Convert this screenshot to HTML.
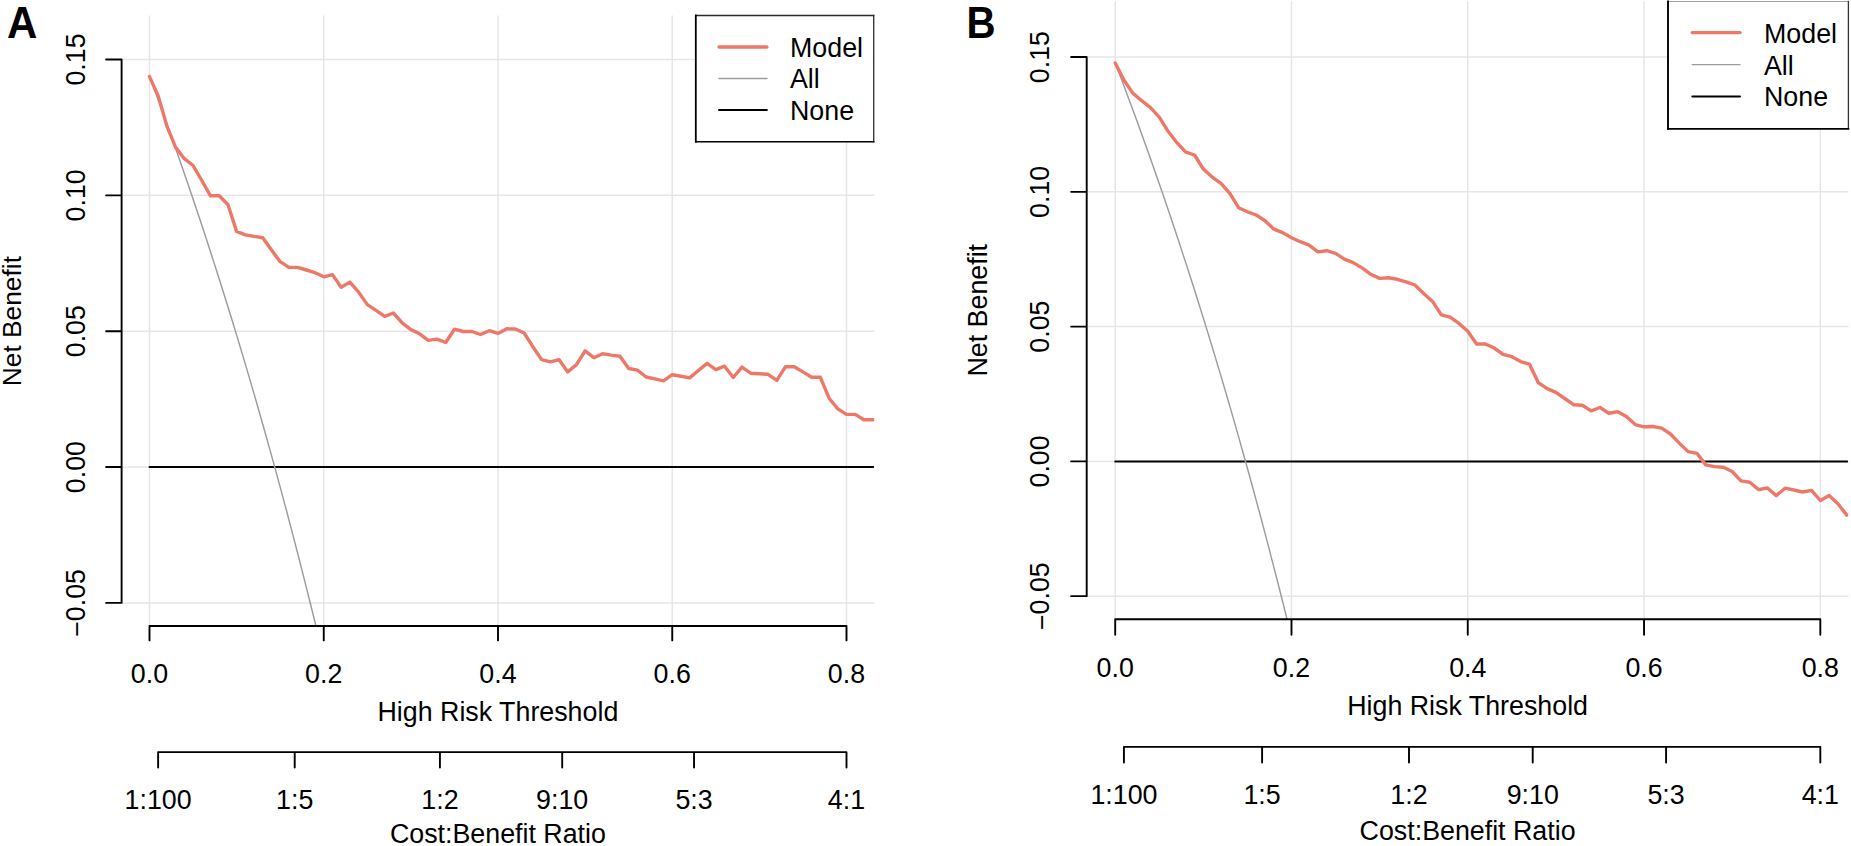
<!DOCTYPE html>
<html><head><meta charset="utf-8"><title>Decision curves</title>
<style>
html,body{margin:0;padding:0;background:#fff;}
body{width:1851px;height:846px;overflow:hidden;position:relative;}
svg{position:absolute;left:0;top:0;display:block;}
</style></head><body>
<svg width="1851" height="846" viewBox="0 0 1851 846">
<rect width="1851" height="846" fill="#fff"/>
<clipPath id="clipA"><rect x="121.6" y="15.4" width="752.60" height="610.60"/></clipPath>
<path d="M149.50 15.40V626.00M323.75 15.40V626.00M498.00 15.40V626.00M672.25 15.40V626.00M846.50 15.40V626.00M121.60 602.90H874.20M121.60 467.05H874.20M121.60 331.20H874.20M121.60 195.35H874.20M121.60 59.50H874.20" stroke="#e6e6e6" stroke-width="1.5" fill="none"/>
<g clip-path="url(#clipA)">
<path d="M149.50 467.05H873.20" stroke="#000" stroke-width="2.0" fill="none" stroke-linecap="round"/>
<path d="M149.50 76.60 L153.86 88.29 L158.21 100.10 L162.57 112.03 L166.93 124.08 L171.28 136.26 L175.64 148.56 L179.99 160.98 L184.35 173.54 L188.71 186.23 L193.06 199.05 L197.42 212.01 L201.78 225.10 L206.13 238.34 L210.49 251.72 L214.84 265.24 L219.20 278.91 L223.56 292.73 L227.91 306.70 L232.27 320.82 L236.62 335.11 L240.98 349.55 L245.34 364.15 L249.69 378.92 L254.05 393.86 L258.41 408.96 L262.76 424.25 L267.12 439.70 L271.48 455.34 L275.83 471.16 L280.19 487.17 L284.54 503.36 L288.90 519.75 L293.26 536.34 L297.61 553.12 L301.97 570.11 L306.32 587.31 L310.68 604.71 L315.04 622.33 L319.39 640.17" stroke="#9c9c9c" stroke-width="1.45" fill="none"/>
<path d="M149.50 76.60 L158.21 95.90 L166.93 126.20 L175.64 147.40 L184.35 158.70 L193.06 165.50 L201.78 180.50 L210.49 195.80 L219.20 195.80 L227.91 204.50 L236.62 231.40 L245.34 234.80 L254.05 236.40 L262.76 237.70 L271.48 250.00 L280.19 261.70 L288.90 267.40 L297.61 267.40 L306.33 270.00 L315.04 272.70 L323.75 276.80 L332.46 274.60 L341.18 287.20 L349.89 282.10 L358.60 292.10 L367.31 304.60 L376.02 310.30 L384.74 316.40 L393.45 313.00 L402.16 322.80 L410.88 329.60 L419.59 333.80 L428.30 340.40 L437.01 339.10 L445.73 342.50 L454.44 329.20 L463.15 331.50 L471.86 331.50 L480.57 334.50 L489.29 330.70 L498.00 333.40 L506.71 328.80 L515.42 329.00 L524.14 333.00 L532.85 346.70 L541.56 359.60 L550.28 361.90 L558.99 359.60 L567.70 371.90 L576.41 364.70 L585.12 350.90 L593.84 357.70 L602.55 353.70 L611.26 355.10 L619.98 356.20 L628.69 368.50 L637.40 370.20 L646.11 377.00 L654.83 378.90 L663.54 380.80 L672.25 374.70 L680.96 376.20 L689.68 377.90 L698.39 370.50 L707.10 363.40 L715.81 369.60 L724.52 366.20 L733.24 377.50 L741.95 367.10 L750.66 373.20 L759.38 373.80 L768.09 374.30 L776.80 380.40 L785.51 366.60 L794.23 366.70 L802.94 371.90 L811.65 377.30 L820.36 377.30 L829.08 398.20 L837.79 408.90 L846.50 414.40 L855.21 414.40 L863.93 419.70 L872.64 419.70 L881.35 419.70" stroke="#ed7868" stroke-width="3.4" fill="none" stroke-linejoin="round" stroke-linecap="round"/>
</g>
<path d="M121.60 59.50V602.90M106.10 602.90H121.60M106.10 467.05H121.60M106.10 331.20H121.60M106.10 195.35H121.60M106.10 59.50H121.60M149.50 626.00H846.50M149.50 626.00V640.40M323.75 626.00V640.40M498.00 626.00V640.40M672.25 626.00V640.40M846.50 626.00V640.40M158.13 752.10H846.50M158.13 752.10V767.60M294.71 752.10V767.60M439.92 752.10V767.60M562.20 752.10V767.60M694.03 752.10V767.60M846.50 752.10V767.60" stroke="#000" stroke-width="1.9" fill="none" stroke-linecap="round" stroke-linejoin="round"/>
<g font-family="'Liberation Sans', Arial, Helvetica, sans-serif" font-size="26.8" fill="#000"><text x="149.50" y="682.60" text-anchor="middle">0.0</text><text x="323.75" y="682.60" text-anchor="middle">0.2</text><text x="498.00" y="682.60" text-anchor="middle">0.4</text><text x="672.25" y="682.60" text-anchor="middle">0.6</text><text x="846.50" y="682.60" text-anchor="middle">0.8</text><text transform="translate(84.90 602.90) rotate(-90)" text-anchor="middle"><tspan dy="1.5">−</tspan><tspan dy="-1.5">0.05</tspan></text><text transform="translate(84.90 467.05) rotate(-90)" text-anchor="middle">0.00</text><text transform="translate(84.90 331.20) rotate(-90)" text-anchor="middle">0.05</text><text transform="translate(84.90 195.35) rotate(-90)" text-anchor="middle">0.10</text><text transform="translate(84.90 59.50) rotate(-90)" text-anchor="middle">0.15</text><text x="158.13" y="808.80" text-anchor="middle">1:100</text><text x="294.71" y="808.80" text-anchor="middle">1:5</text><text x="439.92" y="808.80" text-anchor="middle">1:2</text><text x="562.20" y="808.80" text-anchor="middle">9:10</text><text x="694.03" y="808.80" text-anchor="middle">5:3</text><text x="846.50" y="808.80" text-anchor="middle">4:1</text><text x="497.90" y="720.90" text-anchor="middle">High Risk Threshold</text><text x="497.90" y="842.50" text-anchor="middle">Cost:Benefit Ratio</text><text transform="translate(21.10 321.10) rotate(-90)" text-anchor="middle" font-size="26.3">Net Benefit</text></g>
<rect x="695.60" y="15.60" width="178.10" height="126.30" fill="#fff"/>
<path d="M695.8 15.5H873.7" stroke="#2a2a2a" stroke-width="1.3" fill="none" stroke-linecap="square"/>
<path d="M873.7 15.5V141.7" stroke="#333" stroke-width="1.35" fill="none" stroke-linecap="square"/>
<path d="M695.8 141.7H873.7" stroke="#000" stroke-width="1.6" fill="none" stroke-linecap="square"/>
<path d="M695.8 15.5V141.7" stroke="#000" stroke-width="1.8" fill="none" stroke-linecap="square"/>
<path d="M719.00 47.00H766.90" stroke="#ed7868" stroke-width="3.4" stroke-linecap="round"/>
<path d="M719.00 78.40H766.90" stroke="#9c9c9c" stroke-width="1.45" stroke-linecap="round"/>
<path d="M719.00 110.10H766.90" stroke="#000" stroke-width="2.0" stroke-linecap="round"/>
<g font-family="'Liberation Sans', Arial, Helvetica, sans-serif" font-size="26.8" fill="#000"><text x="790.00" y="56.70">Model</text><text x="790.00" y="88.40">All</text><text x="790.00" y="120.10">None</text></g>
<text transform="translate(6.90 37.60) scale(0.955 1)" font-family="'Liberation Sans', Arial, Helvetica, sans-serif" font-weight="bold" font-size="44" fill="#000">A</text>
<clipPath id="clipB"><rect x="1086.7" y="1.3" width="761.80" height="617.90"/></clipPath>
<path d="M1115.20 1.30V619.20M1291.48 1.30V619.20M1467.76 1.30V619.20M1644.04 1.30V619.20M1820.32 1.30V619.20M1086.70 596.17H1848.50M1086.70 461.40H1848.50M1086.70 326.62H1848.50M1086.70 191.85H1848.50M1086.70 57.07H1848.50" stroke="#e6e6e6" stroke-width="1.5" fill="none"/>
<g clip-path="url(#clipB)">
<path d="M1115.20 461.40H1847.20" stroke="#000" stroke-width="2.0" fill="none" stroke-linecap="round"/>
<path d="M1115.20 62.90 L1119.61 74.44 L1124.01 86.10 L1128.42 97.88 L1132.83 109.78 L1137.24 121.80 L1141.64 133.94 L1146.05 146.21 L1150.46 158.61 L1154.86 171.14 L1159.27 183.79 L1163.68 196.59 L1168.08 209.52 L1172.49 222.58 L1176.90 235.79 L1181.31 249.14 L1185.71 262.64 L1190.12 276.28 L1194.53 290.08 L1198.93 304.02 L1203.34 318.12 L1207.75 332.38 L1212.15 346.80 L1216.56 361.38 L1220.97 376.13 L1225.38 391.04 L1229.78 406.13 L1234.19 421.39 L1238.60 436.83 L1243.00 452.45 L1247.41 468.25 L1251.82 484.24 L1256.22 500.42 L1260.63 516.80 L1265.04 533.37 L1269.45 550.14 L1273.85 567.12 L1278.26 584.30 L1282.67 601.70 L1287.07 619.32 L1291.48 637.15" stroke="#9c9c9c" stroke-width="1.45" fill="none"/>
<path d="M1115.20 62.90 L1124.01 80.30 L1132.83 93.10 L1141.64 100.70 L1150.46 107.70 L1159.27 117.10 L1168.08 131.30 L1176.90 142.70 L1185.71 152.10 L1194.53 155.00 L1203.34 169.10 L1212.15 177.10 L1220.97 183.30 L1229.78 193.40 L1238.60 207.70 L1247.41 211.80 L1256.22 215.00 L1265.04 220.70 L1273.85 229.20 L1282.67 232.60 L1291.48 237.70 L1300.29 241.70 L1309.11 245.20 L1317.92 251.90 L1326.74 250.70 L1335.55 253.40 L1344.36 259.10 L1353.18 262.60 L1361.99 267.90 L1370.81 274.30 L1379.62 278.40 L1388.43 277.80 L1397.25 279.30 L1406.06 281.80 L1414.88 285.00 L1423.69 293.50 L1432.50 301.40 L1441.32 314.90 L1450.13 317.10 L1458.95 323.40 L1467.76 331.30 L1476.57 344.00 L1485.39 344.00 L1494.20 348.00 L1503.02 354.40 L1511.83 356.70 L1520.64 361.60 L1529.46 364.20 L1538.27 382.60 L1547.09 388.60 L1555.90 392.40 L1564.71 398.50 L1573.53 404.70 L1582.34 405.30 L1591.16 410.90 L1599.97 407.50 L1608.78 413.20 L1617.60 411.70 L1626.41 416.60 L1635.23 424.60 L1644.04 426.80 L1652.85 426.50 L1661.67 428.20 L1670.48 434.00 L1679.30 443.10 L1688.11 451.60 L1696.92 453.30 L1705.74 464.90 L1714.55 466.60 L1723.37 467.30 L1732.18 471.50 L1740.99 480.90 L1749.81 482.30 L1758.62 489.60 L1767.44 488.00 L1776.25 495.60 L1785.06 488.20 L1793.88 490.00 L1802.69 492.00 L1811.51 490.40 L1820.32 500.50 L1829.13 495.60 L1837.95 503.80 L1846.76 515.10" stroke="#ed7868" stroke-width="3.4" fill="none" stroke-linejoin="round" stroke-linecap="round"/>
</g>
<path d="M1086.70 57.07V596.17M1071.10 596.17H1086.70M1071.10 461.40H1086.70M1071.10 326.62H1086.70M1071.10 191.85H1086.70M1071.10 57.07H1086.70M1115.20 619.20H1820.32M1115.20 619.20V634.80M1291.48 619.20V634.80M1467.76 619.20V634.80M1644.04 619.20V634.80M1820.32 619.20V634.80M1123.93 746.90H1820.32M1123.93 746.90V762.60M1262.10 746.90V762.60M1409.00 746.90V762.60M1532.71 746.90V762.60M1666.08 746.90V762.60M1820.32 746.90V762.60" stroke="#000" stroke-width="1.9" fill="none" stroke-linecap="round" stroke-linejoin="round"/>
<g font-family="'Liberation Sans', Arial, Helvetica, sans-serif" font-size="26.8" fill="#000"><text x="1115.20" y="676.70" text-anchor="middle">0.0</text><text x="1291.48" y="676.70" text-anchor="middle">0.2</text><text x="1467.76" y="676.70" text-anchor="middle">0.4</text><text x="1644.04" y="676.70" text-anchor="middle">0.6</text><text x="1820.32" y="676.70" text-anchor="middle">0.8</text><text transform="translate(1049.10 596.17) rotate(-90)" text-anchor="middle"><tspan dy="1.5">−</tspan><tspan dy="-1.5">0.05</tspan></text><text transform="translate(1049.10 461.40) rotate(-90)" text-anchor="middle">0.00</text><text transform="translate(1049.10 326.62) rotate(-90)" text-anchor="middle">0.05</text><text transform="translate(1049.10 191.85) rotate(-90)" text-anchor="middle">0.10</text><text transform="translate(1049.10 57.07) rotate(-90)" text-anchor="middle">0.15</text><text x="1123.93" y="804.20" text-anchor="middle">1:100</text><text x="1262.10" y="804.20" text-anchor="middle">1:5</text><text x="1409.00" y="804.20" text-anchor="middle">1:2</text><text x="1532.71" y="804.20" text-anchor="middle">9:10</text><text x="1666.08" y="804.20" text-anchor="middle">5:3</text><text x="1820.32" y="804.20" text-anchor="middle">4:1</text><text x="1467.60" y="715.40" text-anchor="middle">High Risk Threshold</text><text x="1467.60" y="839.80" text-anchor="middle">Cost:Benefit Ratio</text><text transform="translate(986.50 310.25) rotate(-90)" text-anchor="middle" font-size="26.8">Net Benefit</text></g>
<rect x="1667.90" y="1.30" width="180.60" height="127.10" fill="#fff"/>
<path d="M1668 1.5H1848.4" stroke="#a0a0a0" stroke-width="1.0" fill="none" stroke-linecap="square"/>
<path d="M1848.4 1.5V128.8" stroke="#333" stroke-width="1.3" fill="none" stroke-linecap="square"/>
<path d="M1668 128.8H1848.4" stroke="#000" stroke-width="1.7" fill="none" stroke-linecap="square"/>
<path d="M1668 1.5V128.8" stroke="#000" stroke-width="1.9" fill="none" stroke-linecap="square"/>
<path d="M1692.30 32.60H1740.00" stroke="#ed7868" stroke-width="3.4" stroke-linecap="round"/>
<path d="M1692.30 64.60H1740.00" stroke="#9c9c9c" stroke-width="1.45" stroke-linecap="round"/>
<path d="M1692.30 96.60H1740.00" stroke="#000" stroke-width="2.0" stroke-linecap="round"/>
<g font-family="'Liberation Sans', Arial, Helvetica, sans-serif" font-size="26.8" fill="#000"><text x="1764.00" y="42.70">Model</text><text x="1764.00" y="74.50">All</text><text x="1764.00" y="106.30">None</text></g>
<text transform="translate(966.40 37.60) scale(0.915 1)" font-family="'Liberation Sans', Arial, Helvetica, sans-serif" font-weight="bold" font-size="44" fill="#000">B</text>
</svg>
</body></html>
